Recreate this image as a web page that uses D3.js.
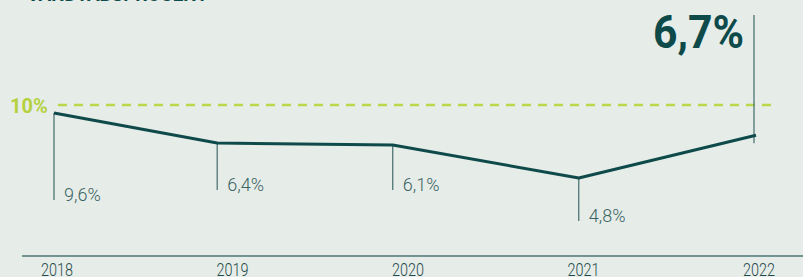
<!DOCTYPE html>
<html>
<head>
<meta charset="utf-8">
<script src="https://cdn.jsdelivr.net/npm/d3@7"></script>
<style>
  html, body { margin: 0; padding: 0; background: #e6ede8; }
  svg { display: block; }
  .year { font-family: Roboto, "Open Sans", sans-serif; font-weight: 300; font-size: 18px; fill: #1f4a4c; }
  .val { font-family: Roboto, "Open Sans", sans-serif; font-weight: 300; font-size: 18px; fill: #3b6464; }
</style>
</head>
<body>
<svg id="chart"></svg>
<script>
// data
const years = [2018, 2019, 2020, 2021, 2022]
const rateLabels = ['9,6%', '6,4%', '6,1%', '4,8%', '6,7%']
// where the curve sits for each year (the picture is not to scale with the labels)
const markerYear = [2018, 2018.93, 2019.93, 2020.99, 2022]
const lineLevel = [9.47, 7.48, 7.35, 5.17, 8.0]
const targetValue = 10
const targetLabel = '10%'
const title = 'VANDTABSPROCENT'

// layout bits
const width = 803, height = 277
const dropLen = [87, 47, 45, 43]   // callout lines under the first four points

const svg = d3.select('#chart').attr('width', width).attr('height', height)

const x = d3.scaleLinear().domain([2018, 2022]).range([54, 756])
const y = d3.scaleLinear().domain([0, 10]).range([256, 105])

// title, mostly cut off at the top edge
svg.append('text')
  .attr('x', 27).attr('y', 1)
  .attr('textLength', 181).attr('lengthAdjust', 'spacingAndGlyphs')
  .style('font-family', 'Roboto, "Open Sans", sans-serif')
  .style('font-weight', 700).style('font-size', '18px')
  .attr('fill', '#0f4a4a')
  .text(title)

// axis line + years
svg.append('line')
  .attr('x1', 22).attr('x2', width)
  .attr('y1', y(0)).attr('y2', y(0))
  .attr('stroke', '#729494').attr('stroke-width', 2)

svg.selectAll('.year').data(years).enter().append('text')
  .attr('class', 'year')
  .attr('x', d => x(d) + 3 - 16)
  .attr('y', 276)
  .attr('textLength', 32).attr('lengthAdjust', 'spacingAndGlyphs')
  .text(d => d)

// 10% target
svg.append('line')
  .attr('x1', x(2018) + 4).attr('x2', x(2022) + 16)
  .attr('y1', y(targetValue)).attr('y2', y(targetValue))
  .attr('stroke', '#bcd64a').attr('stroke-width', 2.5)
  .attr('stroke-dasharray', '9,7')

svg.append('text')
  .attr('x', 10).attr('y', y(targetValue) + 8)
  .style('font-family', 'Roboto, "Open Sans", sans-serif')
  .style('font-weight', 700).style('font-size', '20px')
  .attr('fill', '#b5d13f')
  .text(targetLabel)

const pts = years.map((d, i) => ({ year: d, label: rateLabels[i], mx: x(markerYear[i]), my: y(lineLevel[i]) }))

// callout lines
const first = pts.slice(0, 4)
svg.selectAll('.drop').data(first).enter().append('line')
  .attr('class', 'drop')
  .attr('x1', d => d.mx).attr('x2', d => d.mx)
  .attr('y1', d => d.my).attr('y2', (d, i) => d.my + dropLen[i])
  .attr('stroke', '#4f7576').attr('stroke-width', 1.3)

svg.selectAll('.val').data(first).enter().append('text')
  .attr('class', 'val')
  .attr('x', d => d.mx + 10)
  .attr('y', (d, i) => d.my + dropLen[i] + 1)
  .text(d => d.label)

// last year gets the big number
const last = pts[4]
svg.append('line')
  .attr('x1', last.mx - 2).attr('x2', last.mx - 2)
  .attr('y1', 15).attr('y2', last.my + 8)
  .attr('stroke', '#4f7576').attr('stroke-width', 1.3)

svg.append('text')
  .attr('x', last.mx - 12).attr('y', 48)
  .attr('text-anchor', 'end')
  .attr('textLength', 91).attr('lengthAdjust', 'spacingAndGlyphs')
  .style('font-family', 'Roboto, "Open Sans", sans-serif')
  .style('font-weight', 700).style('font-size', '46px')
  .attr('fill', '#0f4a4a')
  .text(last.label)

// the curve
const line = d3.line().x(d => d.mx).y(d => d.my)
svg.append('path')
  .datum(pts)
  .attr('d', line)
  .attr('fill', 'none')
  .attr('stroke', '#0f4a4a')
  .attr('stroke-width', 3)
  .attr('stroke-linejoin', 'round')
</script>
</body>
</html>
